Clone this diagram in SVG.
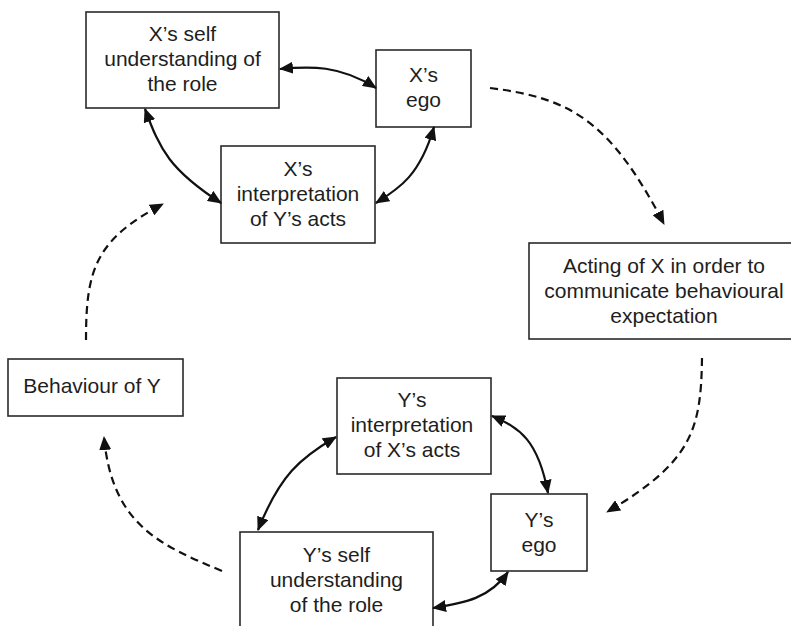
<svg xmlns="http://www.w3.org/2000/svg" width="791" height="626" viewBox="0 0 791 626">
  <style>
    .box { fill: #ffffff; stroke: #2a2a2a; stroke-width: 1.6; }
    .lbl { font-family: "Liberation Sans", Arial, sans-serif; font-size: 21px; fill: #1e1e1e; text-anchor: middle; }
    .link { fill: none; stroke: #111111; stroke-width: 2.2; }
    .flow { fill: none; stroke: #111111; stroke-width: 2.2; stroke-dasharray: 8 5; }
  </style>
  <defs>
    <marker id="ah" viewBox="0 0 14 12" refX="13" refY="6" markerWidth="14" markerHeight="12" markerUnits="userSpaceOnUse" orient="auto-start-reverse">
      <path d="M0,0 L14,6 L0,12 z" fill="#111111"/>
    </marker>
  </defs>

  <rect width="791" height="626" fill="#ffffff"/>

  <!-- X side -->
  <g id="x-self">
    <rect class="box" x="86" y="12" width="193" height="96"/>
    <text class="lbl" x="182.5" y="41">X’s self</text>
    <text class="lbl" x="182.5" y="66">understanding of</text>
    <text class="lbl" x="182.5" y="91">the role</text>
  </g>
  <g id="x-ego">
    <rect class="box" x="376" y="50" width="95" height="77"/>
    <text class="lbl" x="423.5" y="82">X’s</text>
    <text class="lbl" x="423.5" y="107">ego</text>
  </g>
  <g id="x-interpretation">
    <rect class="box" x="221" y="146" width="154" height="97"/>
    <text class="lbl" x="298" y="176">X’s</text>
    <text class="lbl" x="298" y="201">interpretation</text>
    <text class="lbl" x="298" y="226">of Y’s acts</text>
  </g>
  <g id="x-acting">
    <rect class="box" x="529" y="243" width="270" height="96"/>
    <text class="lbl" x="664" y="273">Acting of X in order to</text>
    <text class="lbl" x="664" y="298">communicate behavioural</text>
    <text class="lbl" x="664" y="323">expectation</text>
  </g>

  <!-- Y side -->
  <g id="y-behaviour">
    <rect class="box" x="8" y="359" width="175" height="57"/>
    <text class="lbl" x="92" y="393">Behaviour of Y</text>
  </g>
  <g id="y-interpretation">
    <rect class="box" x="337" y="378" width="154" height="96"/>
    <text class="lbl" x="412" y="407">Y’s</text>
    <text class="lbl" x="412" y="432">interpretation</text>
    <text class="lbl" x="412" y="457">of X’s acts</text>
  </g>
  <g id="y-ego">
    <rect class="box" x="491" y="494" width="96" height="77"/>
    <text class="lbl" x="539" y="527">Y’s</text>
    <text class="lbl" x="539" y="552">ego</text>
  </g>
  <g id="y-self">
    <rect class="box" x="240" y="532" width="193" height="110"/>
    <text class="lbl" x="336.5" y="562">Y’s self</text>
    <text class="lbl" x="336.5" y="587">understanding</text>
    <text class="lbl" x="336.5" y="612">of the role</text>
  </g>

  <g id="connectors">
    <!-- two-way links inside each cycle -->
    <path class="link" d="M280,69 C310,66 340,65 376,88" marker-start="url(#ah)" marker-end="url(#ah)"/>
    <path class="link" d="M145,109 C160,150 170,170 221,203" marker-start="url(#ah)" marker-end="url(#ah)"/>
    <path class="link" d="M376,203 C400,188 420,175 434,127" marker-start="url(#ah)" marker-end="url(#ah)"/>
    <path class="link" d="M492,416 C520,428 538,440 548,493" marker-start="url(#ah)" marker-end="url(#ah)"/>
    <path class="link" d="M336,437 C300,458 280,475 258,530" marker-start="url(#ah)" marker-end="url(#ah)"/>
    <path class="link" d="M433,608 C465,603 490,598 508,572" marker-start="url(#ah)" marker-end="url(#ah)"/>

    <!-- dashed flow between the two sides -->
    <path class="flow" d="M490,88 C570,98 610,120 664,224" marker-end="url(#ah)"/>
    <path class="flow" d="M702,358 C701,430 692,462 607,512" marker-end="url(#ah)"/>
    <path class="flow" d="M222,571 C160,545 112,525 104,437" marker-end="url(#ah)"/>
    <path class="flow" d="M86,340 C86,270 95,240 163,204" marker-end="url(#ah)"/>
  </g>
</svg>
